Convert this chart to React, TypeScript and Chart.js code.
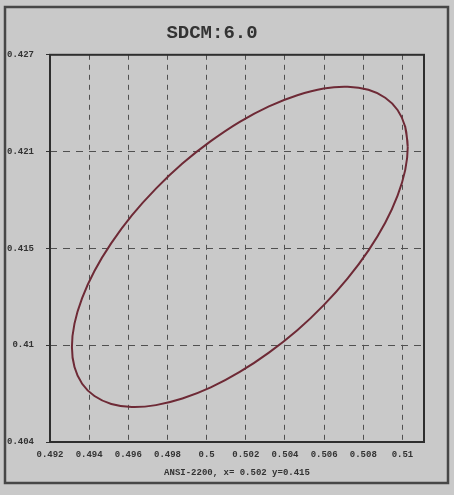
import React, { useEffect, useRef } from "react";
import { Chart, registerables } from "chart.js";

Chart.register(...registerables);

// Ellipse outline points (x, y chromaticity)
const ellipseX = [
  0.51027, 0.51014, 0.50975, 0.50912, 0.50826, 0.5072, 0.50598, 0.50463, 0.50318,
  0.50169, 0.50021, 0.49876, 0.49741, 0.49618, 0.49513, 0.49427, 0.49364, 0.49325,
  0.49312, 0.49325, 0.49364, 0.49427, 0.49513, 0.49618, 0.49741, 0.49876, 0.50021,
  0.50169, 0.50318, 0.50463, 0.50598, 0.5072, 0.50826, 0.50912, 0.50975, 0.51014,
];
const ellipseY = [
  0.42153, 0.42273, 0.42372, 0.42445, 0.42492, 0.4251, 0.425, 0.4246, 0.42394,
  0.42302, 0.42187, 0.42054, 0.41905, 0.41746, 0.41581, 0.41416, 0.41255, 0.41103,
  0.40965, 0.40845, 0.40746, 0.40673, 0.40626, 0.40608, 0.40619, 0.40658, 0.40724,
  0.40816, 0.40931, 0.41064, 0.41213, 0.41372, 0.41537, 0.41702, 0.41863, 0.42015,
];

const xTicks = [0.492, 0.494, 0.496, 0.498, 0.5, 0.502, 0.504, 0.506, 0.508, 0.51];
const xTickLabels = ["0.492", "0.494", "0.496", "0.498", "0.5", "0.502", "0.504", "0.506", "0.508", "0.51"];
const yTicks = [0.404, 0.40975, 0.4155, 0.42125, 0.427];
const yTickLabels = ["0.404", "0.41", "0.415", "0.421", "0.427"];

const xMin = 0.492;
const xMax = 0.5111;
const yMin = 0.404;
const yMax = 0.427;

const titleText = "SDCM:6.0";
const xAxisTitle = "ANSI-2200, x= 0.502 y=0.415";

const BG = "#c9c9c9";
const INK = "#333333";
const MONO = "'Liberation Mono', 'DejaVu Sans Mono', monospace";

export default function App() {
  const ref = useRef<HTMLCanvasElement | null>(null);

  useEffect(() => {
    const canvas = ref.current;
    if (!canvas) return;

    const pts = ellipseX.map((x, i) => ({ x, y: ellipseY[i] }));
    // close the loop smoothly
    const closed = [...pts, pts[0], pts[1]];

    const framePlugin = {
      id: "framePlugin",
      beforeDraw(chart: any) {
        const ctx = chart.ctx;
        ctx.save();
        ctx.fillStyle = BG;
        ctx.fillRect(0, 0, chart.width, chart.height);
        ctx.restore();
      },
      afterDraw(chart: any) {
        const ctx = chart.ctx;
        const a = chart.chartArea;
        ctx.save();
        ctx.strokeStyle = "#2e2e2e";
        ctx.lineWidth = 2;
        ctx.setLineDash([]);
        ctx.strokeRect(a.left, a.top, a.right - a.left, a.bottom - a.top);
        ctx.strokeStyle = "#474747";
        ctx.lineWidth = 2.5;
        ctx.strokeRect(5, 7, 443, 476);
        ctx.restore();
      },
    };

    const chart = new Chart(canvas, {
      type: "scatter",
      data: {
        datasets: [
          {
            data: closed,
            showLine: true,
            borderColor: "#6e2a36",
            borderWidth: 2,
            pointRadius: 0,
            tension: 0.4,
            fill: false,
          },
        ],
      },
      options: {
        responsive: false,
        animation: false,
        devicePixelRatio: 1,
        layout: { padding: { left: 0, right: 30, top: 0, bottom: 0 } },
        plugins: {
          legend: { display: false },
          tooltip: { enabled: false },
          title: {
            display: true,
            text: titleText,
            color: INK,
            font: { family: MONO, size: 19, weight: "bold", lineHeight: 1.2 },
            padding: { top: 22, bottom: 10 },
          },
        },
        scales: {
          x: {
            type: "linear",
            min: xMin,
            max: xMax,
            afterBuildTicks: (s: any) => {
              s.ticks = xTicks.map((v) => ({ value: v }));
            },
            afterFit: (s: any) => {
              s.height = 53;
            },
            ticks: {
              autoSkip: false,
              maxRotation: 0,
              padding: 7,
              color: INK,
              font: { family: MONO, size: 9, weight: "bold" },
              callback: (_v: any, i: number) => xTickLabels[i],
            },
            grid: {
              color: "#505050",
              lineWidth: 1,
              drawTicks: false,
            },
            border: { display: false, dash: [5, 5] },
            title: {
              display: true,
              text: xAxisTitle,
              color: INK,
              font: { family: MONO, size: 9, weight: "bold", lineHeight: 1.2 },
              padding: { top: 0, bottom: 17 },
            },
          },
          y: {
            type: "linear",
            min: yMin,
            max: yMax,
            afterBuildTicks: (s: any) => {
              s.ticks = yTicks.map((v) => ({ value: v }));
            },
            afterFit: (s: any) => {
              s.width = 50;
            },
            ticks: {
              autoSkip: false,
              padding: 12,
              color: INK,
              font: { family: MONO, size: 9, weight: "bold" },
              callback: (_v: any, i: number) => yTickLabels[i],
            },
            grid: {
              color: "#505050",
              lineWidth: 1,
              drawTicks: true,
              tickLength: 4,
              tickColor: "#333333",
              tickBorderDash: [],
            },
            border: { display: false, dash: [7, 6] },
          },
        },
      },
      plugins: [framePlugin],
    } as any);

    return () => chart.destroy();
  }, []);

  return (
    <div style={{ position: "absolute", left: 0, top: 0, width: 454, height: 495, background: BG }}>
      <canvas ref={ref} width={454} height={495} style={{ display: "block", width: 454, height: 495 }} />
    </div>
  );
}
